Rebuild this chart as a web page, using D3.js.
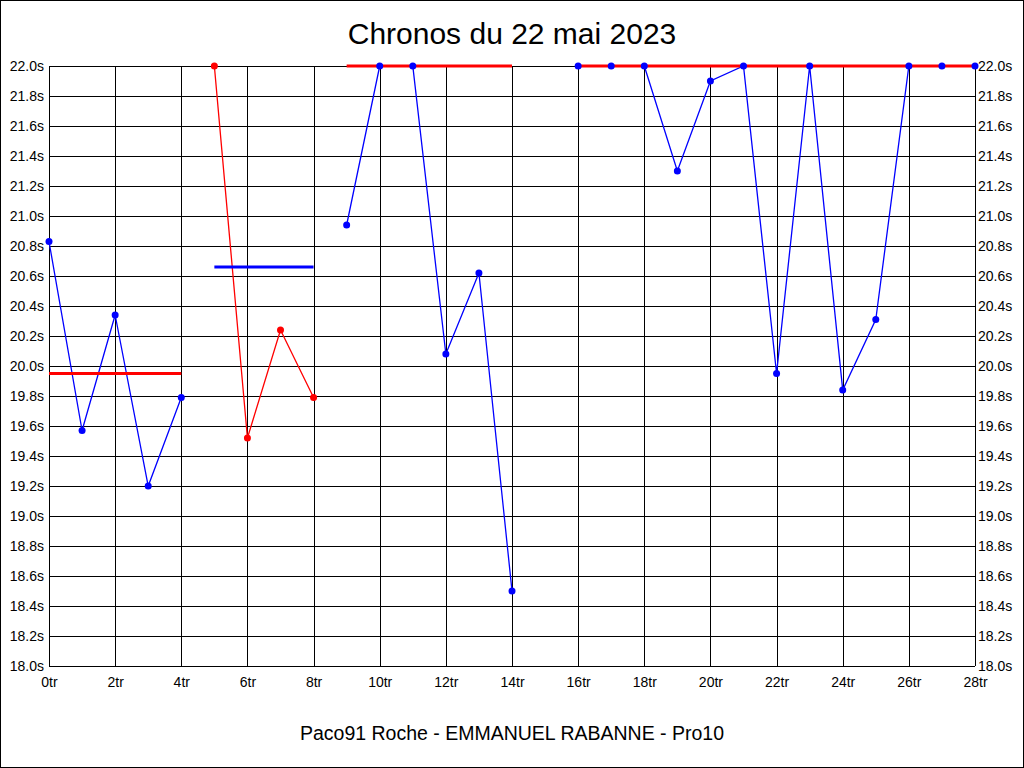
<!DOCTYPE html>
<html><head><meta charset="utf-8">
<script src="https://cdn.jsdelivr.net/npm/d3@7"></script>
<style>html,body{margin:0;padding:0;background:#fff}svg{display:block;font-family:"Liberation Sans",Arial,sans-serif}</style>
</head><body>
<script>
// Laps (tours) and times (seconds) per segment
const seg1Laps = [0,1,2,3,4];
const seg1Times = [20.83,19.57,20.34,19.20,19.79];
const seg2Laps = [5,6,7,8];
const seg2Times = [22.0,19.52,20.24,19.79];
const seg3Laps = [9,10,11,12,13,14];
const seg3Times = [20.94,22.0,22.0,20.08,20.62,18.50];
const seg4Laps = [16,17,18,19,20,21,22,23,24,25,26,27,28];
const seg4Times = [22.0,22.0,22.0,21.30,21.90,22.0,19.95,22.0,19.84,20.31,22.0,22.0,22.0];
// mean lines: [startLap, endLap, value]
const meanStarts = [0,5,9,16];
const meanEnds = [4,8,14,28];
const meanValues = [19.95,20.66,22.0,22.0];
const lineColors = ["#0000ff","#ff0000","#0000ff","#0000ff"];
const meanColors = ["#ff0000","#0000ff","#ff0000","#ff0000"];
const xTicks = d3.range(0,29,2);
const yTicks = d3.range(0,21).map(i => +(18 + i*0.2).toFixed(1));
const title = "Chronos du 22 mai 2023";
const subtitle = "Paco91 Roche - EMMANUEL RABANNE - Pro10";

const W=1024,H=768;
const svg = d3.select("body").append("svg").attr("width",W).attr("height",H);
svg.append("rect").attr("x",0.5).attr("y",0.5).attr("width",W-1).attr("height",H-1).attr("fill","#fff").attr("stroke","#000");

const x = d3.scaleLinear().domain([0,28]).range([49,975]);
const y = d3.scaleLinear().domain([18,22]).range([666,66]);

const g = svg.append("g");
// grid
g.selectAll(".hg").data(yTicks).join("line")
  .attr("x1",x(0)).attr("x2",x(28))
  .attr("y1",d=>Math.round(y(d))+0.5).attr("y2",d=>Math.round(y(d))+0.5)
  .attr("stroke","#000").attr("shape-rendering","crispEdges");
g.selectAll(".vg").data(xTicks).join("line")
  .attr("x1",d=>Math.round(x(d))+0.5).attr("x2",d=>Math.round(x(d))+0.5)
  .attr("y1",y(22)).attr("y2",y(18))
  .attr("stroke","#000").attr("shape-rendering","crispEdges");

// axes labels via d3 axes
const yl = d3.axisLeft(y).tickValues(yTicks).tickFormat(d=>d3.format(".1f")(d)+"s").tickSize(0).tickPadding(5);
const yr = d3.axisRight(y).tickValues(yTicks).tickFormat(d=>d3.format(".1f")(d)+"s").tickSize(0).tickPadding(3);
const xb = d3.axisBottom(x).tickValues(xTicks).tickFormat(d=>d+"tr").tickSize(0).tickPadding(11);
function styleAxis(sel){sel.select(".domain").remove();sel.selectAll("text").attr("font-size",14).attr("fill","#000").attr("font-family","'Liberation Sans',Arial,sans-serif");}
svg.append("g").attr("transform","translate(49,0)").call(yl).call(styleAxis);
svg.append("g").attr("transform","translate(975,0)").call(yr).call(styleAxis);
svg.append("g").attr("transform","translate(0,666)").call(xb).call(styleAxis);

const segs = [[seg1Laps,seg1Times],[seg2Laps,seg2Times],[seg3Laps,seg3Times],[seg4Laps,seg4Times]];
const line = d3.line().x(d=>x(d[0])).y(d=>y(d[1]));
segs.forEach((s,i)=>{
  const pts = s[0].map((l,j)=>[l,s[1][j]]);
  g.append("path").datum(pts).attr("d",line).attr("fill","none").attr("stroke",lineColors[i]).attr("stroke-width",1.3);
});
meanStarts.forEach((s,i)=>{
  g.append("line").attr("x1",x(s)).attr("x2",x(meanEnds[i]))
   .attr("y1",y(meanValues[i])).attr("y2",y(meanValues[i]))
   .attr("stroke",meanColors[i]).attr("stroke-width",3);
});
segs.forEach((s,i)=>{
  const pts = s[0].map((l,j)=>[l,s[1][j]]);
  g.selectAll(null).data(pts).join("circle").attr("cx",d=>x(d[0])).attr("cy",d=>y(d[1])).attr("r",3.5).attr("fill",lineColors[i]);
});

svg.append("text").attr("x",512).attr("y",44).attr("text-anchor","middle").attr("font-size",30).text(title);
svg.append("text").attr("x",512).attr("y",740).attr("text-anchor","middle").attr("font-size",19.5).text(subtitle);
</script>
</body></html>
